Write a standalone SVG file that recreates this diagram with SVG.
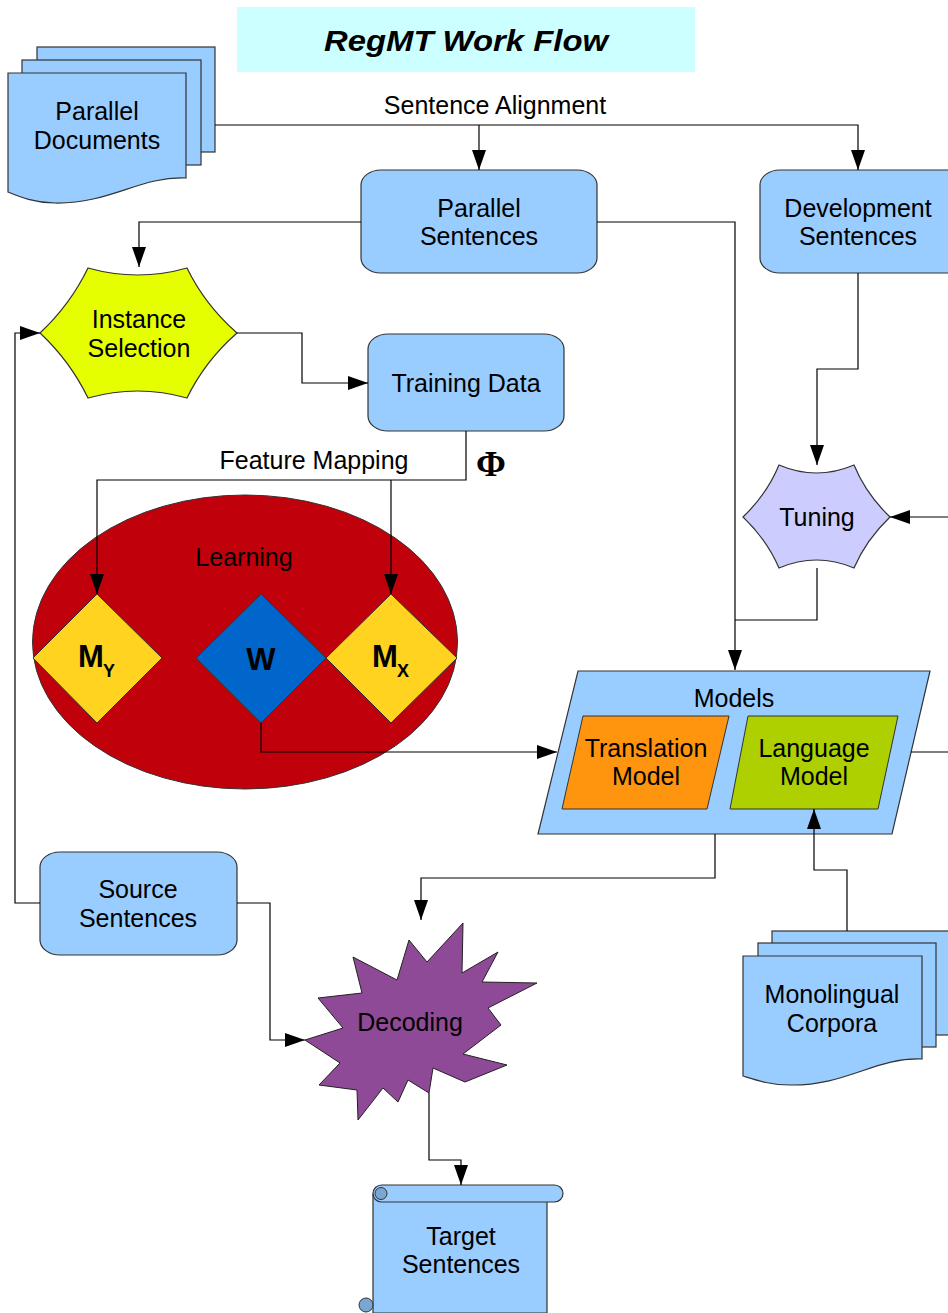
<svg xmlns="http://www.w3.org/2000/svg" width="948" height="1313" viewBox="0 0 948 1313">
<defs>
<style>
.t{font-family:"Liberation Sans",Arial,sans-serif;font-size:25px;fill:#000;text-anchor:middle}
.b{font-family:"Liberation Sans",Arial,sans-serif;font-weight:bold;font-size:31px;fill:#000}
.sub{font-family:"Liberation Sans",Arial,sans-serif;font-weight:bold;font-size:18px;fill:#000}
.blue{fill:#99ccff;stroke:#333;stroke-width:1.2}
.c{fill:none;stroke:#000;stroke-width:1.2}
</style>
<marker id="ah" markerUnits="userSpaceOnUse" markerWidth="20" markerHeight="14" viewBox="0 0 20 14" refX="20" refY="7" orient="auto">
<path d="M0,0 L20,7 L0,14 z" fill="#000"/>
</marker>
</defs>
<rect width="948" height="1313" fill="#fff"/>

<g id="title">
<rect x="237" y="7" width="458" height="65" fill="#ccffff"/>
<text x="466" y="51" font-family="Liberation Sans,Arial,sans-serif" font-weight="bold" font-style="italic" font-size="30" text-anchor="middle" textLength="284" lengthAdjust="spacingAndGlyphs">RegMT Work Flow</text>
</g>

<g id="parallel-documents">
<rect class="blue" x="37" y="47" width="178" height="105"/>
<rect class="blue" x="22" y="60" width="179" height="105"/>
<path class="blue" d="M8,73 H186 V178 C140,176 110,204 55,203 C35,203 20,197 8,192 Z"/>
<text class="t" x="97" y="120">Parallel</text>
<text class="t" x="97" y="149">Documents</text>
</g>

<g id="parallel-sentences">
<rect class="blue" x="361" y="170" width="236" height="103" rx="20" ry="15"/>
<text class="t" x="479" y="217">Parallel</text>
<text class="t" x="479" y="245">Sentences</text>
</g>

<g id="development-sentences">
<rect class="blue" x="760" y="170" width="210" height="103" rx="20" ry="15"/>
<text class="t" x="858" y="217">Development</text>
<text class="t" x="858" y="245">Sentences</text>
</g>

<g id="instance-selection">
<path d="M40,333 Q70,305 88,268 Q138,282 187,268 Q205,305 237,333 Q205,361 187,398 Q138,384 88,398 Q70,361 40,333 Z" fill="#e6ff00" stroke="#333" stroke-width="1.2"/>
<text class="t" x="139" y="328">Instance</text>
<text class="t" x="139" y="357">Selection</text>
</g>

<g id="training-data">
<rect class="blue" x="368" y="334" width="196" height="97" rx="20" ry="15"/>
<text class="t" x="466" y="392">Training Data</text>
</g>

<g id="learning">
<ellipse cx="245" cy="642" rx="212.5" ry="147" fill="#c0000b" stroke="#333" stroke-width="1"/>
<text class="t" x="244" y="566">Learning</text>
</g>

<g id="my">
<path d="M97,594 L162,658 L97,723 L33,658 Z" fill="#ffd320" stroke="#333" stroke-width="1"/>
<text class="b" x="78" y="667">M</text>
<text class="sub" x="103" y="677">Y</text>
</g>

<g id="w">
<path d="M261,594 L326,658 L261,723 L196,658 Z" fill="#0066cc" stroke="#333" stroke-width="1"/>
<text class="b" x="261" y="670" text-anchor="middle">W</text>
</g>

<g id="mx">
<path d="M391,594 L457,658 L391,723 L326,658 Z" fill="#ffd320" stroke="#333" stroke-width="1"/>
<text class="b" x="372" y="667">M</text>
<text class="sub" x="397" y="677">X</text>
</g>

<g id="models">
<path d="M578,671 L930,671 L892,834 L538,834 Z" fill="#99ccff" stroke="#333" stroke-width="1.2"/>
<text class="t" x="734" y="707">Models</text>
</g>

<g id="translation-model">
<path d="M583,716 L729,716 L707,809 L562,809 Z" fill="#ff950e" stroke="#333" stroke-width="1"/>
<text class="t" x="646" y="757">Translation</text>
<text class="t" x="646" y="785">Model</text>
</g>

<g id="language-model">
<path d="M748,716 L898,716 L878,809 L730,809 Z" fill="#aecf00" stroke="#333" stroke-width="1"/>
<text class="t" x="814" y="757">Language</text>
<text class="t" x="814" y="785">Model</text>
</g>

<g id="tuning">
<path d="M743,517 Q767,494 779,465 Q816.5,481 854,465 Q866,494 890,517 Q866,540 854,568 Q816.5,552 779,568 Q767,540 743,517 Z" fill="#ccccff" stroke="#333" stroke-width="1.2"/>
<text class="t" x="817" y="526">Tuning</text>
</g>

<g id="source-sentences">
<rect class="blue" x="40" y="852" width="197" height="103" rx="20" ry="15"/>
<text class="t" x="138" y="898">Source</text>
<text class="t" x="138" y="927">Sentences</text>
</g>

<g id="decoding">
<path d="M305,1040 L343,1028 L318,998 L362,993 L353,957 L397,980 L409,940 L427,962 L463,923 L462,973 L498,952 L482,982 L537,983 L488,1008 L501,1025 L463,1054 L507,1065 L465,1082 L433,1068 L429,1093 L408,1080 L398,1102 L383,1088 L358,1120 L357,1090 L319,1085 L340,1063 Z" fill="#8e4a96" stroke="#222" stroke-width="1"/>
<text class="t" x="410" y="1031">Decoding</text>
</g>

<g id="monolingual-corpora">
<rect class="blue" x="772" y="931" width="190" height="104"/>
<rect class="blue" x="758" y="943" width="178" height="104"/>
<path class="blue" d="M743,956 H922 V1059 C876,1057 846,1086 790,1085 C770,1085 756,1080 743,1076 Z"/>
<text class="t" x="832" y="1003">Monolingual</text>
<text class="t" x="832" y="1032">Corpora</text>
</g>

<g id="target-sentences">
<path d="M373,1194 V1313 H547 V1194 Z" fill="#99ccff" stroke="#333" stroke-width="1.2"/>
<rect x="373" y="1185" width="190" height="17" rx="8.5" fill="#99ccff" stroke="#333" stroke-width="1.2"/>
<circle cx="381" cy="1193.5" r="6" fill="#7aa6d2" stroke="#333" stroke-width="1"/>
<circle cx="366" cy="1305" r="7" fill="#7aa6d2" stroke="#333" stroke-width="1"/>
<text class="t" x="461" y="1245">Target</text>
<text class="t" x="461" y="1273">Sentences</text>
</g>

<g id="connectors">
<path class="c" d="M215,125 H858 V170" marker-end="url(#ah)"/>
<path class="c" d="M479,125 V170" marker-end="url(#ah)"/>
<path class="c" d="M361,222 H139 V267" marker-end="url(#ah)"/>
<path class="c" d="M597,222 H735 V670" marker-end="url(#ah)"/>
<path class="c" d="M237,333 H302 V383 H368" marker-end="url(#ah)"/>
<path class="c" d="M466,431 V480 H97 V594" marker-end="url(#ah)"/>
<path class="c" d="M391,480 V594" marker-end="url(#ah)"/>
<path class="c" d="M261,723 V752 H557" marker-end="url(#ah)"/>
<path class="c" d="M911,752 H948"/>
<path class="c" d="M948,517 H890" marker-end="url(#ah)"/>
<path class="c" d="M858,273 V369 H817 V465" marker-end="url(#ah)"/>
<path class="c" d="M817,568 V620 H735"/>
<path class="c" d="M715,834 V878 H421 V920" marker-end="url(#ah)"/>
<path class="c" d="M847,931 V870 H814 V809" marker-end="url(#ah)"/>
<path class="c" d="M40,903 H15 V333 H40" marker-end="url(#ah)"/>
<path class="c" d="M237,903 H270 V1040 H305" marker-end="url(#ah)"/>
<path class="c" d="M429,1093 V1160 H461 V1185" marker-end="url(#ah)"/>
<text class="t" x="495" y="114">Sentence Alignment</text>
<text class="t" x="314" y="469">Feature Mapping</text>
<text x="491" y="476" font-family="Liberation Serif,Times New Roman,serif" font-weight="bold" font-size="36" text-anchor="middle">Φ</text>
</g>
</svg>
